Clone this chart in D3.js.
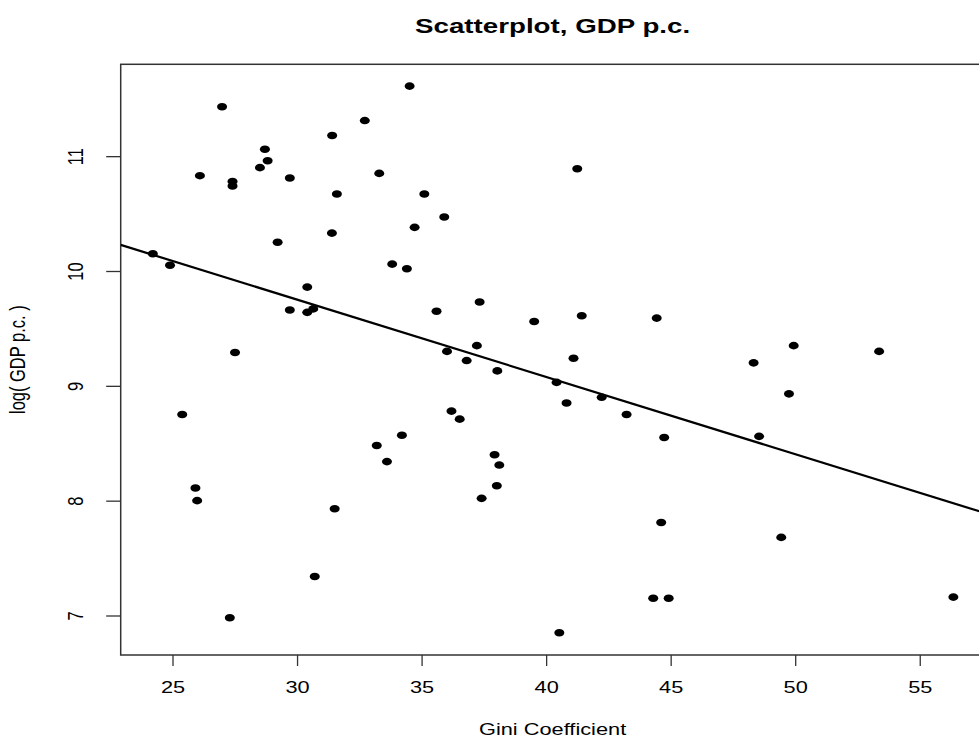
<!DOCTYPE html>
<html>
<head>
<meta charset="utf-8">
<script src="https://cdn.jsdelivr.net/npm/d3@7"></script>
<style>
  body { margin: 0; background: #fff; }
  text { font-family: "Liberation Sans", Arial, sans-serif; fill: #000; }
</style>
</head>
<body>
<div id="chart"></div>
<script>
// values
const gini = [
  26.99, 28.71, 28.82, 28.51, 26.10, 27.41, 27.41, 29.71, 29.22, 24.21,
  24.90, 30.41, 29.71, 30.41, 30.65, 27.51, 34.52, 32.72, 31.41, 41.25,
  33.30, 31.60, 35.11, 35.91, 34.72, 31.40, 33.82, 34.41, 37.33, 35.60,
  39.52, 41.43, 37.22, 36.02, 41.10, 36.81, 38.04, 44.44, 49.94, 53.37,
  48.33, 25.39, 25.92, 25.99, 30.71, 27.30, 40.42, 42.23, 40.82, 43.23,
  36.20, 36.53, 34.21, 33.20, 33.61, 37.93, 38.12, 38.02, 37.41, 31.51,
  40.53, 49.75, 44.74, 48.55, 44.62, 49.44, 44.30, 44.92, 56.35
];
const logGdp = [
  11.43, 11.06, 10.96, 10.90, 10.83, 10.78, 10.74, 10.81, 10.25, 10.15,
  10.05, 9.86, 9.66, 9.64, 9.67, 9.29, 11.61, 11.31, 11.18, 10.89,
  10.85, 10.67, 10.67, 10.47, 10.38, 10.33, 10.06, 10.02, 9.73, 9.65,
  9.56, 9.61, 9.35, 9.30, 9.24, 9.22, 9.13, 9.59, 9.35, 9.30,
  9.20, 8.75, 8.11, 8.00, 7.34, 6.98, 9.03, 8.90, 8.85, 8.75,
  8.78, 8.71, 8.57, 8.48, 8.34, 8.40, 8.31, 8.13, 8.02, 7.93,
  6.85, 8.93, 8.55, 8.56, 7.81, 7.68, 7.15, 7.15, 7.16
];
const xTicks = [25, 30, 35, 40, 45, 50, 55];
const yTicks = [7, 8, 9, 10, 11];
const fitIntercept = 11.77;
const fitSlope = -0.0673;

const width = 979, height = 742;
const plot = {left: 120.7, right: 984.5, top: 64.3, bottom: 655};
const sx = 1.32; // the picture is stretched sideways

const svg = d3.select("#chart").append("svg")
    .attr("width", width)
    .attr("height", height);

const x = d3.scaleLinear().domain([22.92, 57.6]).range([plot.left, plot.right]);
const y = d3.scaleLinear().domain([6.656, 11.80]).range([plot.bottom, plot.top]);

svg.append("clipPath").attr("id", "clip")
  .append("rect")
    .attr("x", plot.left).attr("y", plot.top)
    .attr("width", plot.right - plot.left).attr("height", plot.bottom - plot.top);

// x axis
const xAxis = d3.axisBottom(x).tickValues(xTicks).tickFormat(d3.format("d")).tickSize(11).tickSizeOuter(0);
const gx = svg.append("g")
    .attr("transform", "translate(0," + plot.bottom + ")")
    .call(xAxis);
gx.select(".domain").remove();
gx.selectAll("line").attr("stroke", "#333").attr("stroke-width", 1.3);
gx.selectAll("text")
    .attr("y", null).attr("dy", null)
    .attr("transform", "translate(0,38) scale(" + sx + ",1)")
    .style("font-size", "16.5px")
    .attr("fill", "#000");

// y axis, labels turned like R does
const yAxis = d3.axisLeft(y).tickValues(yTicks).tickFormat(d3.format("d")).tickSize(14.5).tickSizeOuter(0);
const gy = svg.append("g")
    .attr("transform", "translate(" + plot.left + ",0)")
    .call(yAxis);
gy.select(".domain").remove();
gy.selectAll("line").attr("stroke", "#333").attr("stroke-width", 1.3);
gy.selectAll("text")
    .attr("x", null).attr("dy", null)
    .attr("text-anchor", "middle")
    .attr("transform", "translate(-38,0) scale(" + sx + ",1) rotate(-90)")
    .style("font-size", "16.5px")
    .attr("fill", "#000");

// box
svg.append("rect")
    .attr("x", plot.left).attr("y", plot.top)
    .attr("width", plot.right - plot.left).attr("height", plot.bottom - plot.top)
    .attr("fill", "none")
    .attr("stroke", "#333")
    .attr("stroke-width", 1.5);

// points
svg.append("g").selectAll("ellipse")
    .data(gini.map((g, i) => ({g: g, v: logGdp[i]})))
    .enter().append("ellipse")
    .attr("cx", d => x(d.g))
    .attr("cy", d => y(d.v))
    .attr("rx", 5)
    .attr("ry", 3.8)
    .attr("fill", "#000");

// fitted line
const xd = x.domain();
svg.append("line")
    .attr("clip-path", "url(#clip)")
    .attr("x1", x(xd[0])).attr("y1", y(fitIntercept + fitSlope * xd[0]))
    .attr("x2", x(xd[1])).attr("y2", y(fitIntercept + fitSlope * xd[1]))
    .attr("stroke", "#000")
    .attr("stroke-width", 2.2);

// titles
const cx = (plot.left + plot.right) / 2;
svg.append("text")
    .attr("transform", "translate(" + cx + ",33) scale(" + sx + ",1)")
    .attr("text-anchor", "middle")
    .style("font-size", "21px")
    .style("font-weight", "bold")
    .text("Scatterplot, GDP p.c.");

svg.append("text")
    .attr("transform", "translate(" + cx + ",735) scale(" + sx + ",1)")
    .attr("text-anchor", "middle")
    .style("font-size", "16.5px")
    .text("Gini Coefficient");

svg.append("text")
    .attr("transform", "translate(25," + (plot.top + plot.bottom) / 2 + ") scale(" + sx + ",1) rotate(-90)")
    .attr("text-anchor", "middle")
    .style("font-size", "16.5px")
    .text("log( GDP p.c. )");
</script>
</body>
</html>
